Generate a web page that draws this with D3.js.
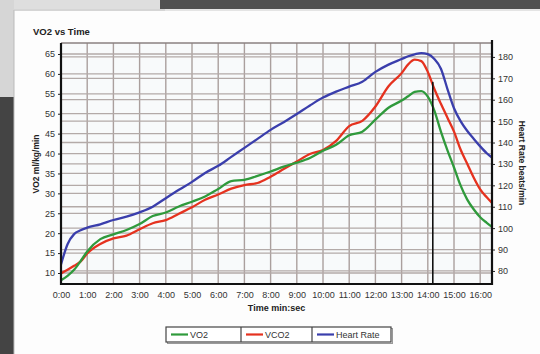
<!DOCTYPE html>
<html>
<head>
  <meta charset="utf-8">
  <script src="https://d3js.org/d3.v7.min.js"></script>
  <style type="text/css">
    body { margin: 0; background: #fff; }
    svg text { font-family: "Liberation Sans", Arial, sans-serif; }
  </style>
</head>
<body>
<script type="text/javascript">
  // time in minutes
  var timeMin = [0, 0.25, 0.5, 0.75, 1, 1.5, 2, 2.5, 3, 3.5, 4, 4.5, 5, 5.5, 6, 6.5, 7, 7.5, 8, 8.5,
                 9, 9.5, 10, 10.5, 11, 11.5, 12, 12.5, 13, 13.25, 13.5, 13.75, 14, 14.25, 14.5, 14.75,
                 15, 15.25, 15.5, 15.75, 16, 16.25, 16.45];
  // VO2 ml/kg/min (left axis)
  var vo2 = [8.2, 9.3, 10.8, 13.0, 15.4, 18.5, 19.7, 20.8, 22.3, 24.3, 25.2, 26.7, 27.9, 29.2, 31.1, 33.1, 33.4, 34.4, 35.5, 36.7,
             37.7, 38.9, 40.7, 42.2, 44.6, 45.5, 48.5, 51.5, 53.3, 54.4, 55.5, 55.7, 54.3, 50.8, 45.5, 40.8,
             36.5, 32, 28.5, 26, 24, 22.6, 21.6];
  // VCO2 (left axis)
  var vco2 = [9.9, 10.8, 11.8, 12.9, 14.9, 17.3, 18.7, 19.4, 21.0, 22.5, 23.3, 24.9, 26.5, 28.4, 29.7, 31.2, 32.1, 32.6, 34.2, 36.1,
              38, 39.9, 40.9, 43.2, 46.9, 48.2, 51.8, 56.9, 60.2, 62.4, 63.6, 63.2, 60.5, 56.2, 52.5, 49,
              45.5, 41, 37.5, 34, 31, 29, 27.6];
  // heart rate beats/min (right axis)
  var heartRate = [83, 92.5, 97.2, 99, 100.2, 101.8, 103.8, 105.4, 107.4, 110, 114, 117.9, 121.6, 125.8, 129.1, 133.3, 137.5, 141.7, 145.9, 149.5,
                   153.3, 157.3, 161, 163.8, 166.1, 168.4, 173, 176.4, 179, 180.3, 181.2, 181.8, 181.3, 179, 174.5, 165,
                   156, 150, 145.5, 141.8, 138.2, 135, 133];

  var xTicks = [0, 1, 2, 3, 4, 5, 6, 7, 8, 9, 10, 11, 12, 13, 14, 15, 16];
  var leftTicks = [10, 15, 20, 25, 30, 35, 40, 45, 50, 55, 60, 65];
  var rightTicks = [80, 90, 100, 110, 120, 130, 140, 150, 160, 170, 180];
  var seriesNames = ["VO2", "VCO2", "Heart Rate"];
  var seriesColors = ["#2f9a3c", "#e5321f", "#3a3eac"];
  // vertical marker line (time, top value on left axis)
  var markerTime = 14.19, markerTop = 58;

  var width = 540, height = 354;
  var plot = {left: 61, right: 492, top: 43, bottom: 284};

  var svg = d3.select("body").append("svg")
      .attr("width", width)
      .attr("height", height);

  // photo surroundings
  svg.append("rect").attr("x", 0).attr("y", 0).attr("width", width).attr("height", height).attr("fill", "#fdfdfd");
  svg.append("rect").attr("x", 0).attr("y", 0).attr("width", 165).attr("height", 11).attr("fill", "#dedede");
  svg.append("rect").attr("x", 0).attr("y", 0).attr("width", 14).attr("height", 97).attr("fill", "#d6d6d6");
  svg.append("rect").attr("x", 0).attr("y", 97).attr("width", 14).attr("height", 257).attr("fill", "#444");
  svg.append("rect").attr("x", 160).attr("y", 0).attr("width", 380).attr("height", 9).attr("fill", "#505050");
  svg.append("line").attr("x1", 14).attr("x2", 14).attr("y1", 10).attr("y2", 354).attr("stroke", "#bbb");
  svg.append("line").attr("x1", 14).attr("x2", 540).attr("y1", 10).attr("y2", 10).attr("stroke", "#ccc");

  var x = d3.scaleLinear().domain([0, 16.45]).range([plot.left, plot.right]);
  var yL = d3.scaleLinear().domain([7.24, 67.76]).range([plot.bottom, plot.top]);
  var yR = d3.scaleLinear().domain([73.9, 186.5]).range([plot.bottom, plot.top]);

  svg.append("rect")
      .attr("x", plot.left).attr("y", plot.top)
      .attr("width", plot.right - plot.left).attr("height", plot.bottom - plot.top)
      .attr("fill", "#f8fafb");

  // grids (two sets of horizontal lines, one per y axis)
  var grid = svg.append("g").attr("class", "grid");
  grid.selectAll(".gx").data(xTicks.slice(1)).enter().append("line")
      .attr("x1", function (d) { return x(d); }).attr("x2", function (d) { return x(d); })
      .attr("y1", plot.top).attr("y2", plot.bottom)
      .attr("stroke", "#aa9f9d").attr("stroke-width", 1.4);
  grid.selectAll(".gl").data(leftTicks).enter().append("line")
      .attr("x1", plot.left).attr("x2", plot.right)
      .attr("y1", function (d) { return yL(d); }).attr("y2", function (d) { return yL(d); })
      .attr("stroke", "#b3aaa8").attr("stroke-width", 1.3);
  grid.selectAll(".gr").data(rightTicks).enter().append("line")
      .attr("x1", plot.left).attr("x2", plot.right)
      .attr("y1", function (d) { return yR(d); }).attr("y2", function (d) { return yR(d); })
      .attr("stroke", "#b3aaa8").attr("stroke-width", 1.3);
  svg.append("line").attr("x1", plot.left).attr("x2", plot.right)
      .attr("y1", plot.top).attr("y2", plot.top)
      .attr("stroke", "#8a8080").attr("stroke-width", 1.5);

  // series
  var rows = timeMin.map(function (t, i) {
    return {t: t, vo2: vo2[i], vco2: vco2[i], hr: heartRate[i]};
  });
  var lineL = function (key) {
    return d3.line().curve(d3.curveMonotoneX)
      .x(function (d) { return x(d.t); })
      .y(function (d) { return yL(d[key]); });
  };
  var lineR = d3.line().curve(d3.curveMonotoneX)
      .x(function (d) { return x(d.t); })
      .y(function (d) { return yR(d.hr); });

  svg.append("path").datum(rows).attr("d", lineR)
      .attr("fill", "none").attr("stroke", seriesColors[2]).attr("stroke-width", 2.3);
  svg.append("path").datum(rows).attr("d", lineL("vco2"))
      .attr("fill", "none").attr("stroke", seriesColors[1]).attr("stroke-width", 2.3);
  svg.append("path").datum(rows).attr("d", lineL("vo2"))
      .attr("fill", "none").attr("stroke", seriesColors[0]).attr("stroke-width", 2.3);

  // marker line
  svg.append("line")
      .attr("x1", x(markerTime)).attr("x2", x(markerTime))
      .attr("y1", yL(markerTop)).attr("y2", plot.bottom)
      .attr("stroke", "#111").attr("stroke-width", 1.6);

  // axes
  var fmtTime = function (d) { return d + ":00"; };
  var xAxis = svg.append("g").attr("transform", "translate(0," + plot.bottom + ")")
      .call(d3.axisBottom(x).tickValues(xTicks).tickFormat(fmtTime).tickSize(0).tickPadding(8));
  var leftAxis = svg.append("g").attr("transform", "translate(" + plot.left + ",0)")
      .call(d3.axisLeft(yL).tickValues(leftTicks).tickSize(3).tickPadding(3));
  var rightAxis = svg.append("g").attr("transform", "translate(" + plot.right + ",0)")
      .call(d3.axisRight(yR).tickValues(rightTicks).tickSize(3).tickPadding(3));

  [xAxis, leftAxis, rightAxis].forEach(function (ax) {
    ax.select(".domain").remove();
    ax.selectAll("line").attr("stroke", "#222");
    ax.selectAll("text").style("font-size", "9px").attr("fill", "#333");
  });

  svg.append("line").attr("x1", plot.left).attr("x2", plot.left)
      .attr("y1", plot.top).attr("y2", plot.bottom + 1).attr("stroke", "#111").attr("stroke-width", 2.2);
  svg.append("line").attr("x1", plot.right).attr("x2", plot.right)
      .attr("y1", plot.top - 3).attr("y2", plot.bottom + 1).attr("stroke", "#111").attr("stroke-width", 2.2);
  svg.append("line").attr("x1", plot.left).attr("x2", plot.right)
      .attr("y1", plot.bottom).attr("y2", plot.bottom).attr("stroke", "#111").attr("stroke-width", 2.2);

  // titles
  svg.append("text").attr("x", 33).attr("y", 35)
      .style("font-size", "9.5px").style("font-weight", "bold").attr("fill", "#222")
      .text("VO2 vs Time");
  svg.append("text").attr("x", (plot.left + plot.right) / 2).attr("y", 311)
      .attr("text-anchor", "middle")
      .style("font-size", "9px").style("font-weight", "bold").attr("fill", "#222")
      .text("Time min:sec");
  svg.append("text")
      .attr("transform", "translate(39,164) rotate(-90)")
      .attr("text-anchor", "middle")
      .style("font-size", "8.5px").style("font-weight", "bold").attr("fill", "#222")
      .text("VO2 ml/kg/min");
  svg.append("text")
      .attr("transform", "translate(519,163) rotate(90)")
      .attr("text-anchor", "middle")
      .style("font-size", "8.5px").style("font-weight", "bold").attr("fill", "#222")
      .text("Heart Rate beats/min");

  // legend
  var legend = svg.append("g").attr("transform", "translate(166,327)");
  var cellX = [0, 75, 146, 225];
  legend.append("rect").attr("x", 1.5).attr("y", 1.5).attr("width", 225).attr("height", 15)
      .attr("fill", "none").attr("stroke", "#999").attr("stroke-width", 1);
  legend.append("rect").attr("width", 225).attr("height", 15)
      .attr("fill", "#fff").attr("stroke", "#444").attr("stroke-width", 1.2);
  seriesNames.forEach(function (name, i) {
    var g = legend.append("g").attr("transform", "translate(" + cellX[i] + ",0)");
    if (i > 0) {
      g.append("line").attr("x1", 0).attr("x2", 0).attr("y1", 0).attr("y2", 15)
        .attr("stroke", "#444").attr("stroke-width", 1.2);
    }
    g.append("line").attr("x1", 5).attr("x2", 22).attr("y1", 7.5).attr("y2", 7.5)
      .attr("stroke", seriesColors[i]).attr("stroke-width", 2.2);
    g.append("text").attr("x", 24).attr("y", 10.8)
      .style("font-size", "9px").attr("fill", "#333").text(name);
  });
</script>
</body>
</html>
